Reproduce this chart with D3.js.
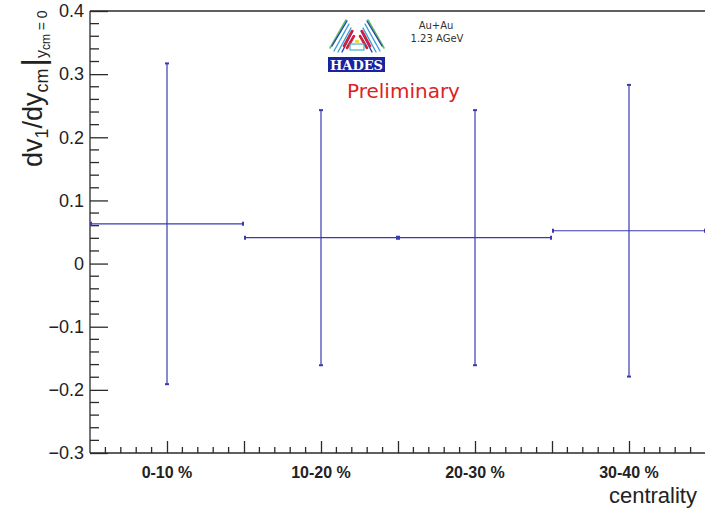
<!DOCTYPE html>
<html>
<head>
<meta charset="utf-8">
<script src="https://cdn.jsdelivr.net/npm/d3@7"></script>
<style>
  html, body { margin: 0; padding: 0; background: #fff; }
  svg { display: block; }
</style>
</head>
<body>
<svg id="chart" width="705" height="509"></svg>
<script>
// Centrality classes and the slope dv1/dy at mid-rapidity with its errors
const categories = ["0-10 %", "10-20 %", "20-30 %", "30-40 %"];
const slopes = [0.063, 0.041, 0.041, 0.052];
const slopeErrors = [0.254, 0.202, 0.202, 0.231];
const yTicks = [-0.3, -0.2, -0.1, 0, 0.1, 0.2, 0.3, 0.4];

const svg = d3.select("#chart");
const W = 705, H = 509;
const plotLeft = 90, plotTop = 11, plotBottom = 453, plotRight = 706;

const x = d3.scaleLinear().domain([0, categories.length]).range([plotLeft, plotRight]);
const y = d3.scaleLinear().domain([-0.3, 0.4]).range([plotBottom, plotTop]);

const axisColor = "#2a2a2a";
const dataColor = "#3a3ab0";

// frame: top line
svg.append("line").attr("x1", plotLeft).attr("x2", W).attr("y1", plotTop).attr("y2", plotTop)
  .attr("stroke", axisColor).attr("stroke-width", 1.3);

// Y axis with inward ticks
const yAxis = d3.axisRight(y).tickValues(yTicks).tickSize(18).tickFormat("");
const gy = svg.append("g").attr("transform", `translate(${plotLeft},0)`).call(yAxis);
gy.selectAll("path, line").attr("stroke", axisColor).attr("stroke-width", 1.3);
gy.select("path.domain").attr("d", `M0,${plotTop}V${plotBottom}`);

const yMinor = d3.range(-0.3, 0.4001, 0.02).map(v => +v.toFixed(2)).filter(v => Math.abs(Math.round(v * 10) - v * 10) > 1e-6);
svg.append("g").selectAll("line").data(yMinor).join("line")
  .attr("x1", plotLeft).attr("x2", plotLeft + 9)
  .attr("y1", d => y(d)).attr("y2", d => y(d))
  .attr("stroke", axisColor).attr("stroke-width", 1.3);

svg.append("g").selectAll("text").data(yTicks).join("text")
  .attr("x", plotLeft - 6).attr("y", d => y(d))
  .attr("dy", "0.35em")
  .attr("text-anchor", "end")
  .attr("font-family", "'Liberation Sans', Arial, sans-serif")
  .attr("font-size", 18)
  .attr("fill", "#222")
  .text(d => d === 0 ? "0" : d3.format(".1f")(d).replace("-", "\u2212"));

// X axis: major ticks every half bin, minor every tenth of a bin
const xMajor = d3.range(0.5, categories.length + 0.001, 0.5);
const xMinor = d3.range(0.1, categories.length + 0.001, 0.1).filter(v => Math.abs(v * 2 - Math.round(v * 2)) > 1e-6);
const xAxis = d3.axisTop(x).tickValues(xMajor).tickSize(12).tickFormat("");
const gx = svg.append("g").attr("transform", `translate(0,${plotBottom})`).call(xAxis);
gx.selectAll("path, line").attr("stroke", axisColor).attr("stroke-width", 1.3);
gx.select("path.domain").attr("d", `M${plotLeft},0H${W}`);
svg.append("g").selectAll("line").data(xMinor).join("line")
  .attr("x1", d => x(d)).attr("x2", d => x(d))
  .attr("y1", plotBottom).attr("y2", plotBottom - 6)
  .attr("stroke", axisColor).attr("stroke-width", 1.3);

svg.append("g").selectAll("text").data(categories).join("text")
  .attr("x", (d, i) => x(i + 0.5)).attr("y", 478)
  .attr("text-anchor", "middle")
  .attr("font-family", "'Liberation Sans', Arial, sans-serif")
  .attr("font-weight", "bold")
  .attr("font-size", 16)
  .attr("fill", "#222")
  .text(d => d);

svg.append("text")
  .attr("x", 697).attr("y", 503)
  .attr("text-anchor", "end")
  .attr("font-family", "'Liberation Sans', Arial, sans-serif")
  .attr("font-size", 22)
  .attr("fill", "#222")
  .text("centrality");

// Y title: dv_1/dy_cm |_(y_cm = 0), read bottom to top
const yt = svg.append("text")
  .attr("transform", "translate(42,167) rotate(-90)")
  .attr("text-anchor", "start")
  .attr("font-family", "'Liberation Sans', Arial, sans-serif")
  .attr("font-size", 27)
  .attr("fill", "#222");
yt.append("tspan").text("dv");
yt.append("tspan").attr("font-size", 18).attr("dy", 6).text("1");
yt.append("tspan").attr("dy", -6).text("/dy");
yt.append("tspan").attr("font-size", 18).attr("dy", 6).text("cm");
yt.append("tspan").attr("font-size", 32).attr("dy", -4).attr("dx", 2).text("|");
yt.append("tspan").attr("font-size", 16).attr("dy", 3).text("y");
yt.append("tspan").attr("font-size", 12).attr("dy", 3).text("cm");
yt.append("tspan").attr("font-size", 14).attr("dy", -3).text(" = 0");

// Data: horizontal bin-width bars and vertical error bars
const g = svg.append("g").attr("stroke", dataColor).attr("stroke-width", 1.2).attr("fill", "none");
categories.forEach((c, i) => {
  const v = slopes[i], e = slopeErrors[i];
  const x0 = x(i), x1 = x(i + 1), xc = x(i + 0.5);
  g.append("line").attr("x1", x0).attr("x2", x1).attr("y1", y(v)).attr("y2", y(v));
  g.append("line").attr("x1", xc).attr("x2", xc).attr("y1", y(v + e)).attr("y2", y(v - e));
  // small end marks
  g.append("line").attr("x1", xc - 2).attr("x2", xc + 2).attr("y1", y(v + e)).attr("y2", y(v + e)).attr("stroke-width", 2);
  g.append("line").attr("x1", xc - 2).attr("x2", xc + 2).attr("y1", y(v - e)).attr("y2", y(v - e)).attr("stroke-width", 2);
  g.append("line").attr("x1", x0 + 1).attr("x2", x0 + 1).attr("y1", y(v) - 2).attr("y2", y(v) + 2).attr("stroke-width", 2);
  g.append("line").attr("x1", x1 - 1).attr("x2", x1 - 1).attr("y1", y(v) - 2).attr("y2", y(v) + 2).attr("stroke-width", 2);
});

// HADES logo
const logo = svg.append("g").attr("fill", "none").attr("stroke-linecap", "round");
const wing = (sx, color, lines, w) => {
  lines.forEach(([a, b, c, d]) => {
    logo.append("line")
      .attr("x1", 357 + sx * a).attr("y1", b)
      .attr("x2", 357 + sx * c).attr("y2", d)
      .attr("stroke", color).attr("stroke-width", w);
  });
};
[-1, 1].forEach(s => {
  wing(s, "#5cbf5c", [[27, 48, 11, 20]], 1.6);
  wing(s, "#3c9ed8", [[23, 51, 8, 24], [19, 52, 6, 28]], 1.4);
  wing(s, "#2a3fb0", [[25, 46, 10, 21], [15, 52, 4, 31]], 1.4);
  wing(s, "#d0203a", [[13, 46, 5, 31], [10, 48, 3, 36]], 2.6);
});
logo.append("rect").attr("x", 350).attr("y", 44).attr("width", 14).attr("height", 6)
  .attr("stroke", "#45b0c8").attr("stroke-width", 1.2);
logo.append("rect").attr("x", 355).attr("y", 40).attr("width", 4).attr("height", 4)
  .attr("fill", "#e8d84a");
logo.append("rect").attr("x", 328).attr("y", 57).attr("width", 57).attr("height", 15)
  .attr("fill", "#1a22a0");
logo.append("text").attr("x", 356.5).attr("y", 70)
  .attr("text-anchor", "middle")
  .attr("font-family", "'DejaVu Serif', serif").attr("font-weight", "bold")
  .attr("font-size", 13).attr("fill", "#fff")
  .attr("textLength", 53).attr("lengthAdjust", "spacingAndGlyphs")
  .text("HADES");

const small = svg.append("g")
  .attr("font-family", "'DejaVu Sans', sans-serif").attr("font-size", 10)
  .attr("fill", "#333").attr("text-anchor", "middle");
small.append("text").attr("x", 436).attr("y", 29).text("Au+Au");
small.append("text").attr("x", 437).attr("y", 42).text("1.23 AGeV");

svg.append("text")
  .attr("x", 347).attr("y", 98)
  .attr("font-family", "'DejaVu Sans', sans-serif")
  .attr("font-size", 20)
  .attr("fill", "#dd2222")
  .text("Preliminary");
</script>
</body>
</html>
